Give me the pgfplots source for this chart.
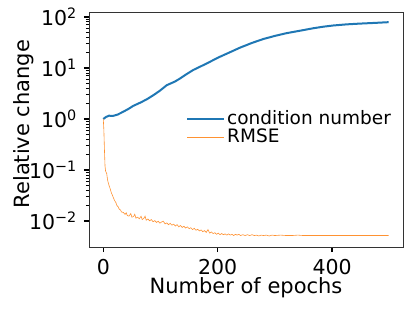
\documentclass[border=0pt]{standalone}
\usepackage{fontspec}
\setmainfont{DejaVu Sans}
\usepackage{pgfplots}
\pgfplotsset{compat=1.18}
\definecolor{c1}{HTML}{1F77B4}
\definecolor{c2}{HTML}{FF7F0E}
\begin{document}
\fontsize{21}{25}\selectfont
\begin{tikzpicture}
\useasboundingbox (-89pt,-64pt) rectangle (326pt,247pt);
\begin{axis}[
  at={(0,0)}, anchor=south west, scale only axis,
  width=314pt, height=235pt,
  ymode=log, xmin=-25, xmax=524, ymin=3.1e-3, ymax=125,
  xtick={0,200,400},
  ytick={1e-2,1e-1,1,10,100},
  yticklabels={10\textsuperscript{−2},10\textsuperscript{−1},10\textsuperscript{0},10\textsuperscript{1},10\textsuperscript{2}},
  /pgf/number format/assume math mode=true,
  tick align=outside, tick pos=left,
  major tick length=5pt, minor tick length=3pt,
  every major tick/.style={black, line width=1.4pt},
  every minor tick/.style={black, line width=0.8pt},
  axis line style={black!80, line width=0.7pt},
  tick label style={font=\fontsize{20.5}{24}\selectfont},
  label style={font=\fontsize{21}{25}\selectfont},
  xlabel={Number of epochs},
  ylabel={Relative change},
  xlabel style={at={(axis description cs:0.5,-0.175)}, anchor=center},
  ylabel style={at={(axis description cs:-0.207,0.523)}, anchor=center},
  legend style={draw=none, fill=none, at={(0.309,0.506)}, anchor=west,
    font=\fontsize{18.5}{22}\selectfont, inner sep=0pt, row sep=-2pt,
    legend cell align=left},
  legend image code/.code={\draw[#1] (0pt,0pt) -- (37pt,0pt);},
]
\addplot[c1, line width=2pt] table {
x y
0 1.0
5 1.1
10 1.16
17 1.15
25 1.22
35 1.39
45 1.6
52 1.8
65 2.1
76 2.43
88 2.95
99 3.59
111 4.6
125 5.4
134 6.2
145 7.5
157 9.1
170 10.7
181 12.3
193 14.4
204 16.6
220 20
239 25
260 31
280 37
300 42.5
320 48
345 54
367 60
385 64.5
402 68
425 71.5
448 74
475 76.5
499 79
};
\addlegendentry{condition number}
\addplot[c2!85, line width=0.6pt] table {
x y
0 1.0
1 0.6
2 0.25
3 0.12
4 0.095
5 0.09
6 0.085
7 0.07
8 0.06
9 0.055
10 0.05
12 0.043
14 0.036
16 0.032
18 0.028
20 0.025
22 0.023
24 0.020
26 0.019
28 0.017
30 0.0165
32 0.015
35 0.0148
38 0.0135
40 0.0145
42 0.0128
45 0.0125
48 0.0140
50 0.0119
53 0.0123
55 0.0136
57 0.0114
60 0.0119
63 0.0111
66 0.0124
68 0.0107
71 0.0113
73 0.0125
75 0.0104
78 0.0110
81 0.0101
84 0.0107
87 0.0097
90 0.0102
93 0.0094
96 0.0099
99 0.0091
102 0.0096
105 0.0099
108 0.0088
111 0.0092
114 0.0085
117 0.0090
120 0.0083
123 0.0087
126 0.0080
129 0.0085
132 0.0077
135 0.0082
138 0.0075
141 0.0079
144 0.0073
147 0.0077
150 0.0071
153 0.0074
156 0.0068
159 0.0072
162 0.0066
165 0.0069
168 0.0064
171 0.0067
174 0.0062
177 0.0065
180 0.0060
183 0.0068
186 0.0058
189 0.0061
192 0.0057
195 0.0059
198 0.0055
201 0.0058
204 0.0054
207 0.0057
210 0.0054
213 0.0056
216 0.0053
219 0.0056
222 0.0053
225 0.0055
228 0.0052
231 0.0055
234 0.0053
237 0.0055
240 0.0052
244 0.0054
248 0.0052
252 0.0054
256 0.0052
260 0.0054
264 0.0052
268 0.0053
272 0.0051
276 0.0053
280 0.0052
285 0.0053
290 0.0051
295 0.0053
300 0.0052
310 0.0053
320 0.0052
330 0.0052
340 0.0053
350 0.0052
360 0.0052
370 0.0052
380 0.0052
390 0.0052
400 0.0052
420 0.0052
440 0.0052
460 0.0052
480 0.0052
499 0.0052
};
\addlegendentry{RMSE}
\end{axis}
\end{tikzpicture}
\end{document}
